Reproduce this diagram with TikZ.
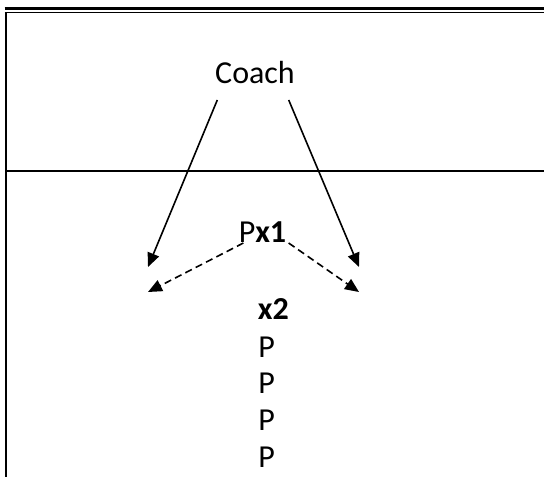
\documentclass[tikz,border=0pt]{standalone}
\usepackage{fontspec}
\setmainfont{Carlito}
\usetikzlibrary{arrows.meta}
\tikzset{
  lbl/.style={inner sep=0pt, anchor=base, font=\fontsize{16}{19}\selectfont},
  row/.style={lbl, anchor=base west},
  move/.style={line width=0.8pt, -{Triangle[length=7pt,width=6pt]}},
  pass/.style={move, dash pattern=on 3.6pt off 2.2pt}
}
\begin{document}
\begin{tikzpicture}[x=0.5pt, y=-0.5pt]
\useasboundingbox (0,0) rectangle (544,477);
% court lines
\draw[line width=1.8pt] (4.5,8.3) -- (544,8.3);
\draw[line width=0.75pt] (4.5,12.3) -- (544,12.3);
\draw[line width=1.1pt] (5.6,12) -- (5.6,477);
\draw[line width=1.1pt] (5,171) -- (544,171);
% people
\node[lbl] (coach) at (255,83) {Coach};
\node[lbl] (p1) at (262.5,242) {P\textbf{x1}};
\node[row] (x2) at (257.5,319) {\textbf{x2}};
\foreach \i in {1,...,4}
  \node[row] (q\i) at (258,320.3+36.7*\i) {P};
% targets
\coordinate (cl) at (148,267);
\coordinate (cr) at (359,267);
\coordinate (dl) at (148,292);
\coordinate (dr) at (359,292);
\draw[move] ([shift={(2.5,17)}]coach.base west) -- (cl);
\draw[move] ([shift={(-6.5,17)}]coach.base east) -- (cr);
\draw[pass] ([shift={(5,1)}]p1.base west) -- (dl);
\draw[pass] ([shift={(2,1)}]p1.base east) -- (dr);
\end{tikzpicture}
\end{document}
